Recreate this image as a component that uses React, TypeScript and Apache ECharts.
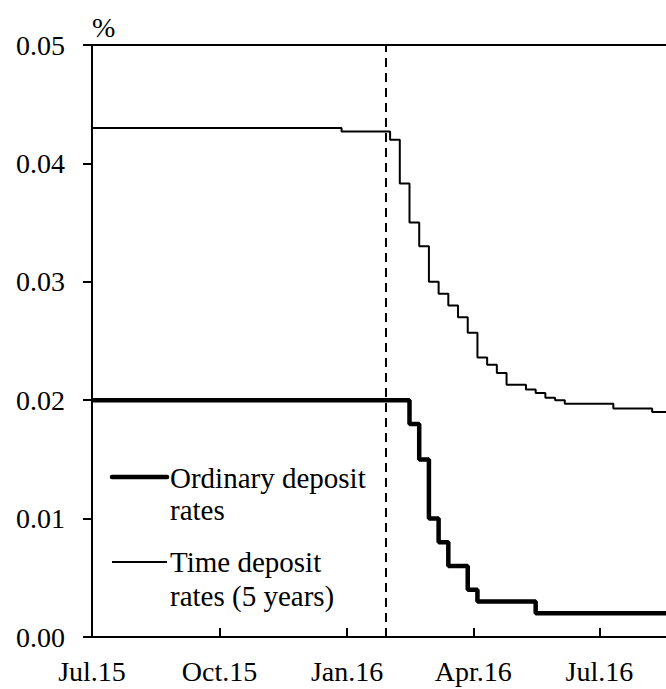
import React, { useEffect, useRef } from "react";
import * as echarts from "echarts";

// Time deposit rates (5 years): change dates and new values
const timeDates = [
  "2015-07-01", "2015-12-28", "2016-02-01", "2016-02-08", "2016-02-15", "2016-02-22",
  "2016-02-29", "2016-03-07", "2016-03-14", "2016-03-21", "2016-03-28", "2016-04-04",
  "2016-04-11", "2016-04-18", "2016-04-25", "2016-05-09", "2016-05-16", "2016-05-23",
  "2016-05-30", "2016-06-06", "2016-07-11", "2016-08-08", "2016-08-18",
];
const timeValues = [
  0.043, 0.0427, 0.042, 0.0383, 0.035, 0.033,
  0.030, 0.029, 0.028, 0.027, 0.0257, 0.0236,
  0.023, 0.0223, 0.0213, 0.0209, 0.0206, 0.0202,
  0.0200, 0.0197, 0.0193, 0.0190, 0.0190,
];

// Ordinary deposit rates
const ordDates = [
  "2015-07-01", "2016-02-15", "2016-02-22", "2016-02-29", "2016-03-07",
  "2016-03-14", "2016-03-28", "2016-04-04", "2016-05-16", "2016-08-18",
];
const ordValues = [0.020, 0.018, 0.015, 0.010, 0.008, 0.006, 0.004, 0.003, 0.002, 0.002];

const tickDates = ["2015-07-01", "2015-10-01", "2016-01-01", "2016-04-01", "2016-07-01"];
const tickLabels = ["Jul.15", "Oct.15", "Jan.16", "Apr.16", "Jul.16"];

const axisMin = "2015-07-01";
const axisMax = "2016-08-18";
const policyDate = "2016-01-29";

const DAY = 86400000;
const day = (d: string) =>
  Math.round((new Date(d + "T00:00:00Z").getTime() - new Date(axisMin + "T00:00:00Z").getTime()) / DAY);

export default function App() {
  const ref = useRef<HTMLDivElement>(null);
  useEffect(() => {
    if (!ref.current) return;
    const chart = echarts.init(ref.current, null, { renderer: "svg" });
    const font = "Liberation Serif";
    const tickDays = tickDates.map(day);
    const labelFor = (v: number) => {
      const i = tickDays.findIndex((t) => Math.abs(t - v) < 0.5);
      return i >= 0 ? tickLabels[i] : "";
    };
    const textStyle = (text: string, size = 29) => ({
      text,
      fontFamily: font,
      fontSize: size,
      fill: "#000",
      verticalAlign: "middle",
    });
    chart.setOption({
      animation: false,
      backgroundColor: "#fff",
      textStyle: { fontFamily: font },
      grid: { left: 92, right: 0, top: 45, bottom: 52, containLabel: false },
      xAxis: [
        {
          type: "value",
          min: 0,
          max: day(axisMax),
          axisLine: { show: true, lineStyle: { color: "#000", width: 2 } },
          axisTick: {
            show: true,
            inside: true,
            length: 9,
            customValues: tickDays,
            lineStyle: { color: "#000", width: 2 },
          },
          axisLabel: {
            customValues: tickDays,
            formatter: (v: number) => labelFor(v),
            color: "#000",
            fontFamily: font,
            fontSize: 28,
            margin: 20,
            showMinLabel: true,
            showMaxLabel: true,
          },
          splitLine: { show: false },
        },
        {
          type: "value",
          position: "top",
          min: 0,
          max: day(axisMax),
          axisLine: { show: true, lineStyle: { color: "#000", width: 2 } },
          axisTick: { show: false },
          axisLabel: { show: false },
          splitLine: { show: false },
        },
      ],
      yAxis: {
        type: "value",
        min: 0,
        max: 0.05,
        interval: 0.01,
        axisLine: { show: true, lineStyle: { color: "#000", width: 2 } },
        axisTick: { show: true, inside: false, length: 9, lineStyle: { color: "#000", width: 2 } },
        axisLabel: {
          formatter: (v: number) => v.toFixed(2),
          color: "#000",
          fontFamily: font,
          fontSize: 28,
          margin: 27,
        },
        splitLine: { show: false },
      },
      series: [
        {
          name: "Time deposit rates (5 years)",
          type: "line",
          step: "end",
          showSymbol: false,
          symbol: "none",
          lineStyle: { color: "#000", width: 2 },
          data: timeDates.map((d, i) => [day(d), timeValues[i]]),
          markLine: {
            silent: true,
            symbol: "none",
            label: { show: false },
            lineStyle: { color: "#000", width: 2, type: [9, 6] },
            data: [{ xAxis: day(policyDate) }],
          },
        },
        {
          name: "Ordinary deposit rates",
          type: "line",
          step: "end",
          showSymbol: false,
          symbol: "none",
          lineStyle: { color: "#000", width: 4.5 },
          data: ordDates.map((d, i) => [day(d), ordValues[i]]),
        },
      ],
      graphic: [
        { type: "text", x: 92, y: 27, style: textStyle("%", 28) },
        {
          type: "line",
          shape: { x1: 112, y1: 477, x2: 167, y2: 477 },
          style: { stroke: "#000", lineWidth: 4.5, lineCap: "round" },
        },
        { type: "text", x: 170, y: 478, style: textStyle("Ordinary deposit") },
        { type: "text", x: 170, y: 510, style: textStyle("rates") },
        {
          type: "line",
          shape: { x1: 112, y1: 562, x2: 167, y2: 562 },
          style: { stroke: "#000", lineWidth: 2 },
        },
        { type: "text", x: 170, y: 562, style: textStyle("Time deposit") },
        { type: "text", x: 170, y: 596, style: textStyle("rates (5 years)") },
      ],
    });
    return () => chart.dispose();
  }, []);
  return (
    <div
      ref={ref}
      style={{ position: "fixed", left: 0, top: 0, width: 666, height: 689, background: "#fff" }}
    />
  );
}
